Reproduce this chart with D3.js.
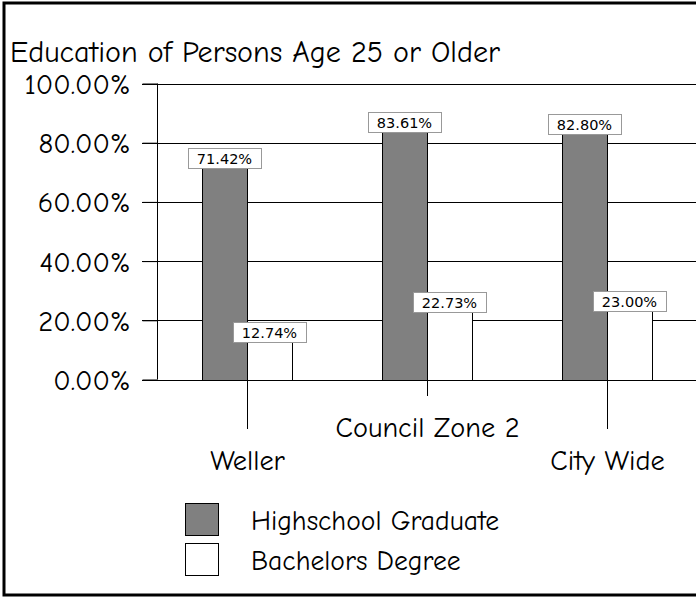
<!DOCTYPE html>
<html>
<head>
<meta charset="utf-8">
<script src="https://cdn.jsdelivr.net/npm/d3@7"></script>
<style>
  html, body { margin: 0; padding: 0; background: #fff; }
  svg { display: block; }
</style>
</head>
<body>
<svg id="chart" width="696" height="599"></svg>
<script>
const categories = ["Weller", "Council Zone 2", "City Wide"];
const seriesNames = ["Highschool Graduate", "Bachelors Degree"];
const highschool = [71.42, 83.61, 82.80];
const bachelors = [12.74, 22.73, 23.00];
const yTickValues = [0, 20, 40, 60, 80, 100];
const title = "Education of Persons Age 25 or Older";

const handFont = "'Comic Sans MS', 'Comic Neue', 'Open Sans', sans-serif";
const labelFont = "'DejaVu Sans', Verdana, sans-serif";
const colors = ["#808080", "#ffffff"];

const svg = d3.select("#chart");

// frame
svg.append("rect")
  .attr("x", 4).attr("y", 3).attr("width", 720).attr("height", 592)
  .attr("fill", "#fff").attr("stroke", "#000").attr("stroke-width", 3);

function fitSize(sel, target) {
  const w = sel.node().getComputedTextLength();
  const fs = parseFloat(sel.attr("font-size"));
  return +(fs * target / w).toFixed(2);
}

// title
const t = svg.append("text")
  .attr("x", 10).attr("y", 62)
  .attr("font-family", handFont).attr("font-size", 30)
  .attr("fill", "#000")
  .text(title);
t.attr("font-size", fitSize(t, 490));

const x0 = 157, x1 = 697;
const x = d3.scaleBand().domain(categories).range([x0, x1]).paddingInner(0.5).paddingOuter(0.25);
const xs = d3.scaleBand().domain(seriesNames).range([0, x.bandwidth()]);
const y = d3.scaleLinear().domain([0, 100]).range([379.5, 83.5]);

// gridlines
svg.append("g").selectAll("line").data(yTickValues.filter(d => d > 0)).join("line")
  .attr("x1", 142).attr("x2", 700)
  .attr("y1", d => Math.round(y(d)) + 0.5).attr("y2", d => Math.round(y(d)) + 0.5)
  .attr("stroke", "#000").attr("stroke-width", 1);

// y axis
const yAxis = d3.axisLeft(y).tickValues(yTickValues).tickSize(15).tickPadding(12)
  .tickFormat(d => d3.format(".2f")(d) + "%");
const yg = svg.append("g").attr("transform", `translate(${x0 + 0.5},0)`).call(yAxis);
yg.select(".domain").attr("stroke", "#000").attr("d", `M0,${y(100)}V${y(0)}`);
yg.selectAll(".tick line").attr("stroke", "#000");
yg.selectAll(".tick text")
  .attr("font-family", handFont).attr("font-size", 22).attr("fill", "#000")
  .attr("dy", "0.35em");
const yfs = fitSize(yg.select(".tick:last-of-type text"), 106);
yg.selectAll(".tick text").attr("font-size", yfs);

// bars
const groups = svg.append("g").selectAll("g").data(categories).join("g")
  .attr("transform", d => `translate(${x(d)},0)`);

const barData = (c, i) => [
  { s: seriesNames[0], v: highschool[i], color: colors[0] },
  { s: seriesNames[1], v: bachelors[i], color: colors[1] }
];

groups.each(function(c, i) {
  const g = d3.select(this);
  g.selectAll("rect.bar").data(barData(c, i)).join("rect")
    .attr("class", "bar")
    .attr("x", d => Math.round(xs(d.s)) + 0.5)
    .attr("width", Math.round(xs.bandwidth()))
    .attr("y", d => Math.round(y(d.v)) + 0.5)
    .attr("height", d => Math.round(y(0)) - Math.round(y(d.v)))
    .attr("fill", d => d.color)
    .attr("stroke", "#000").attr("stroke-width", 1);
});

// x axis baseline
svg.append("line")
  .attr("x1", 142).attr("x2", 700)
  .attr("y1", Math.round(y(0)) + 0.5).attr("y2", Math.round(y(0)) + 0.5)
  .attr("stroke", "#000");

// category ticks with staggered labels
const tickLen = [49, 16, 49];
const labelY = [460, 427, 460];
const catTexts = [];
categories.forEach((c, i) => {
  const cx = Math.round(x(c) + x.bandwidth() / 2) + 0.5;
  svg.append("line")
    .attr("x1", cx).attr("x2", cx)
    .attr("y1", Math.round(y(0)) + 0.5).attr("y2", Math.round(y(0)) + tickLen[i])
    .attr("stroke", "#000");
  catTexts.push(svg.append("text")
    .attr("x", cx).attr("y", labelY[i]).attr("dy", "0.35em")
    .attr("text-anchor", "middle")
    .attr("font-family", handFont).attr("font-size", 20)
    .attr("fill", "#000")
    .text(c));
});
const cfs = fitSize(catTexts[1], 184);
catTexts.forEach(tx => tx.attr("font-size", cfs));

// value labels
const fmt = v => d3.format(".2f")(v) + "%";
groups.each(function(c, i) {
  const g = d3.select(this);
  barData(c, i).forEach(d => {
    const cx = xs(d.s) + xs.bandwidth() / 2;
    const top = Math.round(y(d.v));
    const bw = 73, bh = 20;
    g.append("rect")
      .attr("x", Math.round(cx - bw / 2) + 0.5).attr("y", top - bh + 0.5)
      .attr("width", bw).attr("height", bh)
      .attr("fill", "#fff").attr("stroke", "#999").attr("stroke-width", 1);
    g.append("text")
      .attr("x", cx).attr("y", top - bh / 2 + 0.5).attr("dy", "0.36em")
      .attr("text-anchor", "middle")
      .attr("font-family", labelFont).attr("font-size", 14.5)
      .attr("fill", "#000")
      .text(fmt(d.v));
  });
});

// legend
const legend = svg.append("g");
const legY = [503, 543];
const legTexts = [];
seriesNames.forEach((s, i) => {
  legend.append("rect")
    .attr("x", 185.5).attr("y", legY[i] + 0.5).attr("width", 33).attr("height", 32)
    .attr("fill", colors[i]).attr("stroke", "#000");
  legTexts.push(legend.append("text")
    .attr("x", 251).attr("y", legY[i] + 17).attr("dy", "0.35em")
    .attr("font-family", handFont).attr("font-size", 20)
    .attr("fill", "#000")
    .text(s));
});
const lfs = fitSize(legTexts[0], 248);
legTexts.forEach(tx => tx.attr("font-size", lfs));
</script>
</body>
</html>
